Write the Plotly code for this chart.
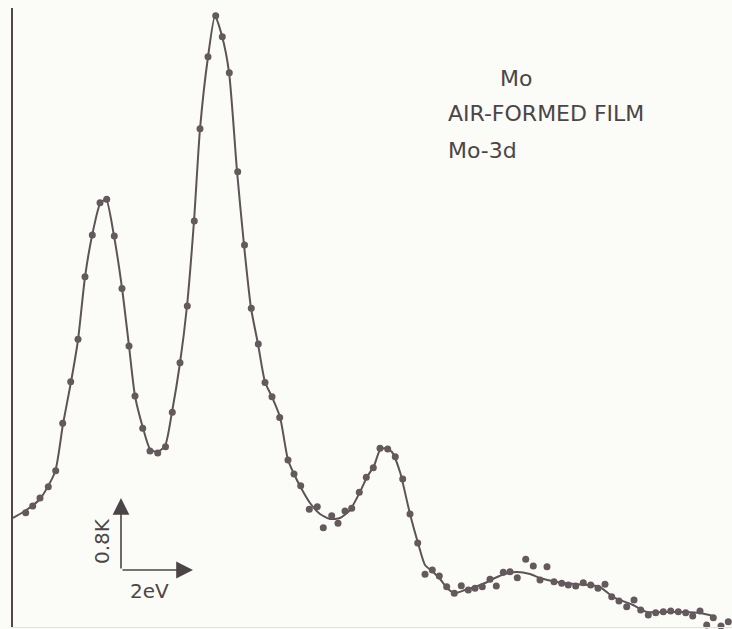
import plotly.graph_objects as go

dot_x = [25.7, 32.7, 40, 48.3, 55.7, 62.7, 70.7, 78, 85, 92.3, 100, 106.7, 114.3, 122, 129, 135,
         142.7, 150, 157.7, 165.5, 172.3, 180, 187.3, 194.3, 200, 208, 215.7, 222.3, 229.3, 237.7,
         244.5, 251.3, 258.3, 265, 272, 279.7, 288, 294, 300.7, 309.3, 317.3, 323.3, 331.7, 338,
         345, 351.7, 359.3, 366.3, 373.3, 380, 387.7, 395.3, 402.7, 410, 417.7, 425, 432.3, 439.3,
         446.7, 454.3, 461.3, 468.3, 475, 482.3, 490, 496.3, 503.3, 510, 517.3, 525.7, 533.3, 540,
         547, 554, 561.7, 568.3, 575.7, 583.3, 590.7, 598, 605, 611.7, 619, 626.7, 634, 640.7,
         648.3, 655.7, 663.3, 670.7, 678.3, 685.7, 692.7, 700, 706.7, 713.3, 721, 728.3]
dot_y = [116.3, 123, 131, 142.3, 158.3, 205.7, 247.3, 289.7, 352.3, 394, 426.3, 429.7, 393, 340.5,
         283, 233, 200.7, 178, 176, 182.3, 216.7, 266.3, 323, 408, 500.3, 572.3, 613.3, 592.3,
         556.3, 457.3, 384, 320.7, 285, 246.5, 232.3, 211.5, 169, 155, 143.3, 119.7, 122.3, 101.3,
         113.3, 105.7, 118, 120.7, 136.7, 151.7, 161.3, 180.7, 180, 172.3, 150, 115, 86, 54.7, 59,
         53, 42.3, 35.7, 43.3, 39, 40.7, 42.3, 49.7, 43, 56.7, 57.3, 51.3, 69.7, 63, 49, 62.3, 47.3,
         45.7, 44, 43, 46.3, 44, 40.7, 44.7, 32.3, 28, 22.3, 29, 19, 14, 16.3, 17.3, 18, 17.3,
         16.3, 13, 18, 4, 11.3, 3, 7.3]

# Hand-drawn fitted curve
curve_x = [13, 25, 40, 55, 63, 71, 78, 85, 92, 100, 106, 114, 122, 129, 135, 143, 150, 157, 165,
           172, 180, 187, 194, 200, 208, 215, 222, 229, 237, 244, 251, 258, 265, 272, 280, 288,
           294, 300, 310, 320, 330, 340, 350, 360, 367, 374, 380, 386, 392, 400, 410, 418, 425,
           432, 440, 448, 455, 465, 475, 485, 495, 505, 517, 530, 540, 557, 575, 590, 600, 613,
           633, 647, 665, 685, 700, 713]
curve_y = [111, 118, 130, 157, 205, 247, 289, 352, 393, 425, 430, 393, 341, 283, 233, 201, 180,
           177, 183, 217, 266, 323, 408, 500, 572, 613, 593, 557, 458, 384, 321, 285, 247, 232,
           212, 169, 155, 143, 126, 115, 110, 111, 119, 137, 152, 163, 179, 181, 177, 157, 115,
           86, 64, 58, 50, 40, 36, 39, 42, 46, 51, 55, 57, 55, 51, 47, 45, 44, 42, 32, 24, 17, 17,
           17, 16, 13]

title_lines = ["Mo", "AIR-FORMED FILM", "Mo-3d"]
scale_y_label = "0.8K"
scale_x_label = "2eV"

ink = "#5d5457"
text_ink = "#4c4547"
bg = "#fbfcf8"
font_family = "DejaVu Sans, Liberation Sans, sans-serif"

fig = go.Figure()
fig.add_trace(go.Scatter(x=curve_x, y=curve_y, mode="lines",
                         line=dict(color=ink, width=2, shape="spline", smoothing=0.6),
                         hoverinfo="skip", showlegend=False))
fig.add_trace(go.Scatter(x=dot_x, y=dot_y, mode="markers",
                         marker=dict(color="#645a5d", size=7, line=dict(width=0)),
                         cliponaxis=False, showlegend=False))

# Text block
fig.add_annotation(x=516, y=551, text=title_lines[0], showarrow=False,
                   font=dict(family=font_family, size=22, color=text_ink), xanchor="center", yanchor="middle")
fig.add_annotation(x=446, y=516, text=title_lines[1], showarrow=False,
                   font=dict(family=font_family, size=22, color=text_ink), xanchor="left", yanchor="middle")
fig.add_annotation(x=446, y=479, text=title_lines[2], showarrow=False,
                   font=dict(family=font_family, size=22, color=text_ink), xanchor="left", yanchor="middle")

# Scale bar arrows
fig.add_annotation(x=121, y=131, ax=121, ay=59, axref="x", ayref="y", xref="x", yref="y",
                   text="", showarrow=True, arrowhead=2, arrowsize=2.1, arrowwidth=1.6, arrowcolor=text_ink)
fig.add_annotation(x=193, y=59, ax=121, ay=59, axref="x", ayref="y", xref="x", yref="y",
                   text="", showarrow=True, arrowhead=2, arrowsize=2.1, arrowwidth=1.6, arrowcolor=text_ink)
fig.add_annotation(x=102, y=88, text=scale_y_label, textangle=-90, showarrow=False,
                   font=dict(family=font_family, size=20, color=text_ink))
fig.add_annotation(x=149, y=38, text=scale_x_label, showarrow=False,
                   font=dict(family=font_family, size=20, color=text_ink))

fig.update_layout(
    width=732, height=629,
    margin=dict(l=13, r=0, t=8, b=2),
    paper_bgcolor=bg, plot_bgcolor=bg,
    xaxis=dict(range=[13, 732], showgrid=False, zeroline=False, showticklabels=False,
               ticks="", showline=True, linecolor="#e2e2dd", linewidth=1, fixedrange=True),
    yaxis=dict(range=[2, 621], showgrid=False, zeroline=False, showticklabels=False,
               ticks="", showline=True, linecolor="#4e4649", linewidth=2, fixedrange=True),
)

fig.write_html("out.html")
